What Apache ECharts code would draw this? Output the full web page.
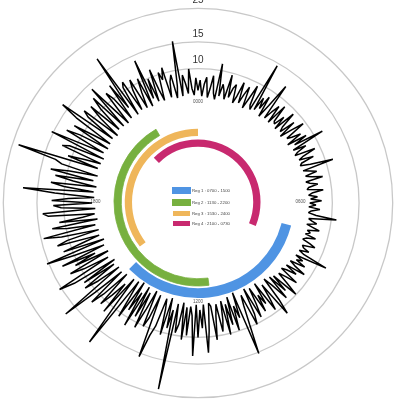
<!DOCTYPE html>
<html><head><meta charset="utf-8">
<script src="https://cdn.jsdelivr.net/npm/echarts@6/dist/echarts.min.js"></script>
<style>html,body{margin:0;padding:0;background:#fff}#c{width:394px;height:401px}</style>
</head><body><div id="c"></div>
<script>
// radial tick values (log scale) and clock labels
const radiusTicks = [10, 15, 25];
const clockLabels = ['0000', '0600', '1200', '1800'];
// regions
const regionNames = ['Reg 1 : 0700 - 1500', 'Reg 2 : 1130 - 2200', 'Reg 3 : 1530 - 2400', 'Reg 4 : 2100 - 0730'];
const regionStart = [7, 11.5, 15.5, 21];
const regionEnd = [15, 22, 24, 7.5];
// activity, one value per 4 minutes (15 per hour), hour 0 .. 23
const activity = [
  7.2, 8.4, 6.6, 7.9, 8.8, 6.5, 7.4, 9.1, 7.0, 6.4, 11.1, 6.8, 8.2, 7.5, 6.6,
  9.7, 6.9, 8.0, 8.6, 6.5, 7.3, 9.2, 6.7, 7.8, 8.9, 6.4, 7.6, 9.5, 7.0, 6.6,
  14.4, 6.8, 8.5, 7.2, 9.0, 6.5, 8.1, 11.9, 6.7, 7.7, 8.8, 6.6, 9.3, 7.1, 6.9,
  8.2, 6.6, 9.4, 7.3, 6.8, 8.7, 6.5, 7.9, 9.6, 6.9, 7.4, 8.5, 6.6, 9.0, 7.2,
  11.5, 6.8, 8.3, 7.1, 6.7, 9.2, 7.5, 6.9, 8.6, 7.0, 6.8, 7.9, 11.2, 6.9, 7.6,
  8.4, 7.0, 7.6, 9.0, 6.9, 7.3, 8.2, 7.1, 6.9, 8.8, 7.4, 7.0, 8.0, 7.2, 8.5,
  7.1, 7.8, 7.0, 8.3, 7.3, 7.0, 7.9, 10.8, 7.1, 7.5, 8.1, 7.0, 7.7, 8.6, 7.2,
  7.6, 7.1, 8.4, 7.3, 7.0, 7.9, 8.7, 7.2, 7.4, 8.2, 7.1, 7.8, 11.5, 7.0, 8.0,
  7.3, 8.6, 6.8, 7.5, 9.1, 6.7, 8.2, 7.0, 6.5, 8.9, 7.4, 6.6, 8.0, 9.9, 6.4,
  8.5, 6.2, 9.3, 7.0, 6.0, 8.8, 11.2, 6.3, 7.9, 9.6, 5.8, 8.2, 6.9, 9.0, 5.9,
  7.6, 9.4, 5.7, 8.6, 10.1, 6.1, 7.2, 9.7, 15.3, 5.6, 8.3, 6.8, 9.9, 5.8, 8.9,
  6.4, 10.2, 6.0, 8.0, 9.5, 6.2, 7.4, 10.6, 6.3, 6.0, 9.1, 12.7, 6.1, 8.7, 6.6,
  10.0, 6.1, 13.3, 7.2, 6.3, 9.8, 6.4, 10.5, 6.0, 8.4, 9.6, 6.2, 23.4, 6.9, 9.2,
  5.8, 10.4, 7.0, 6.0, 9.4, 11.0, 15.8, 5.9, 8.6, 10.1, 5.7, 7.8, 10.8, 6.1, 9.3,
  5.7, 11.3, 6.5, 9.0, 5.6, 10.6, 7.4, 5.8, 18.9, 9.7, 5.9, 11.5, 6.8, 8.8, 10.9,
  6.0, 9.5, 11.8, 6.2, 10.3, 17.9, 6.1, 8.9, 11.1, 6.3, 10.7, 6.0, 12.2, 15.5, 6.4,
  9.6, 11.9, 6.1, 10.5, 7.4, 12.6, 6.2, 9.9, 15.4, 6.0, 11.4, 8.2, 6.3, 12.1, 10.2,
  6.2, 11.0, 14.4, 6.4, 9.8, 12.3, 6.1, 10.9, 7.6, 6.3, 12.8, 13.8, 6.2, 10.4, 11.7,
  6.5, 12.0, 9.3, 6.3, 11.5, 18.7, 6.4, 10.1, 12.4, 6.2, 8.9, 11.8, 6.6, 12.9, 9.7,
  6.3, 11.2, 12.5, 22.8, 6.5, 10.6, 8.1, 6.4, 12.2, 11.0, 6.3, 15.4, 9.4, 6.6, 12.7,
  10.3, 6.4, 11.9, 8.6, 6.5, 12.4, 16.5, 6.6, 10.8, 12.0, 6.4, 9.2, 11.6, 6.7, 10.1,
  12.3, 6.6, 13.8, 8.9, 6.5, 11.4, 10.0, 6.7, 12.1, 7.8, 18.8, 6.6, 10.5, 11.3, 6.8,
  9.4, 11.0, 6.7, 8.5, 10.6, 6.6, 13.8, 7.3, 9.9, 6.8, 11.2, 8.0, 6.7, 10.3, 9.1,
  10.9, 6.8, 8.6, 9.5, 6.6, 7.9, 15.6, 6.7, 9.2, 8.1, 6.9, 10.0, 7.4, 6.7, 8.7
];

const regionColors = ['#4f94e3', '#77b03f', '#efb65a', '#c8296f'];
const regionBorder = [2.6, 0.8, 0, 0];
const stepsPerHour = 15;
const lineData = activity.map((v, i) => [v, i / stepsPerHour]);
lineData.push([activity[0], 24]); // close the ring

const barSeries = [];
regionNames.forEach((name, k) => {
  const segs = regionStart[k] < regionEnd[k]
    ? [[regionStart[k], regionEnd[k]]]
    : [[0, regionEnd[k]], [regionStart[k], 24]];
  let prev = 0;
  segs.forEach(([s, e]) => {
    barSeries.push({
      type: 'bar', coordinateSystem: 'polar', polarIndex: 1, stack: 'arc', silent: true,
      barWidth: 7.3, itemStyle: { color: 'rgba(0,0,0,0)' },
      data: regionNames.map((_, j) => j === k ? s - prev : 0)
    });
    barSeries.push({
      type: 'bar', name: name, coordinateSystem: 'polar', polarIndex: 1, stack: 'arc', silent: true,
      barWidth: 7.3,
      itemStyle: { color: regionColors[k], borderColor: regionColors[k], borderWidth: regionBorder[k] },
      data: regionNames.map((_, j) => j === k ? e - s : 0)
    });
    prev = e;
  });
});

const chart = echarts.init(document.getElementById('c'), null, { renderer: 'canvas' });
chart.setOption({
  backgroundColor: '#fff',
  animation: false,
  polar: [
    { center: [198, 203], radius: [74, 194.7] },
    { center: [198, 202], radius: [53.5, 96.5] }
  ],
  angleAxis: [
    {
      polarIndex: 0, type: 'value', min: 0, max: 24, startAngle: 90, clockwise: true,
      axisLine: { show: false }, axisTick: { show: false }, axisLabel: { show: false }, splitLine: { show: false }
    },
    {
      polarIndex: 1, type: 'value', min: 0, max: 24, interval: 6, startAngle: 90, clockwise: true,
      axisLine: { show: false }, axisTick: { show: false }, splitLine: { show: false },
      axisLabel: {
        show: true, margin: 1, align: 'center', verticalAlign: 'middle',
        fontSize: 4.5, color: '#555', fontFamily: 'Arial, Liberation Sans, sans-serif',
        formatter: v => clockLabels[Math.round(v / 6)] || ''
      }
    }
  ],
  radiusAxis: [
    {
      polarIndex: 0, type: 'log', min: 4, max: 25, logBase: 10,
      axisLine: { show: false },
      axisTick: { show: false, customValues: radiusTicks },
      axisLabel: {
        show: true, customValues: radiusTicks, margin: 0, align: 'center', verticalAlign: 'bottom',
        padding: [0, 0, 3, 0], fontSize: 10, color: '#333', fontFamily: 'Arial, Liberation Sans, sans-serif',
        formatter: v => String(v)
      },
      splitLine: { show: true, showMinLine: false, lineStyle: { color: '#c8c8c8', width: 1.3 } }
    },
    {
      polarIndex: 1, type: 'category', data: regionNames, inverse: true,
      axisLine: { show: false }, axisTick: { show: false }, axisLabel: { show: false }, splitLine: { show: false }
    }
  ],
  legend: {
    data: regionNames, orient: 'vertical', left: 172, top: 187, padding: 0,
    itemWidth: 17, itemHeight: 5, itemGap: 5, icon: 'rect', selectedMode: false,
    textStyle: { fontSize: 4.3, color: '#444', fontFamily: 'Arial, Liberation Sans, sans-serif', padding: [0, 0, 0, -3] }
  },
  series: [
    {
      type: 'line', coordinateSystem: 'polar', polarIndex: 0, data: lineData,
      showSymbol: false, symbol: 'none', smooth: false, silent: true,
      lineStyle: { color: '#000', width: 1.5 }, z: 3
    }
  ].concat(barSeries)
});
</script>
</body></html>
